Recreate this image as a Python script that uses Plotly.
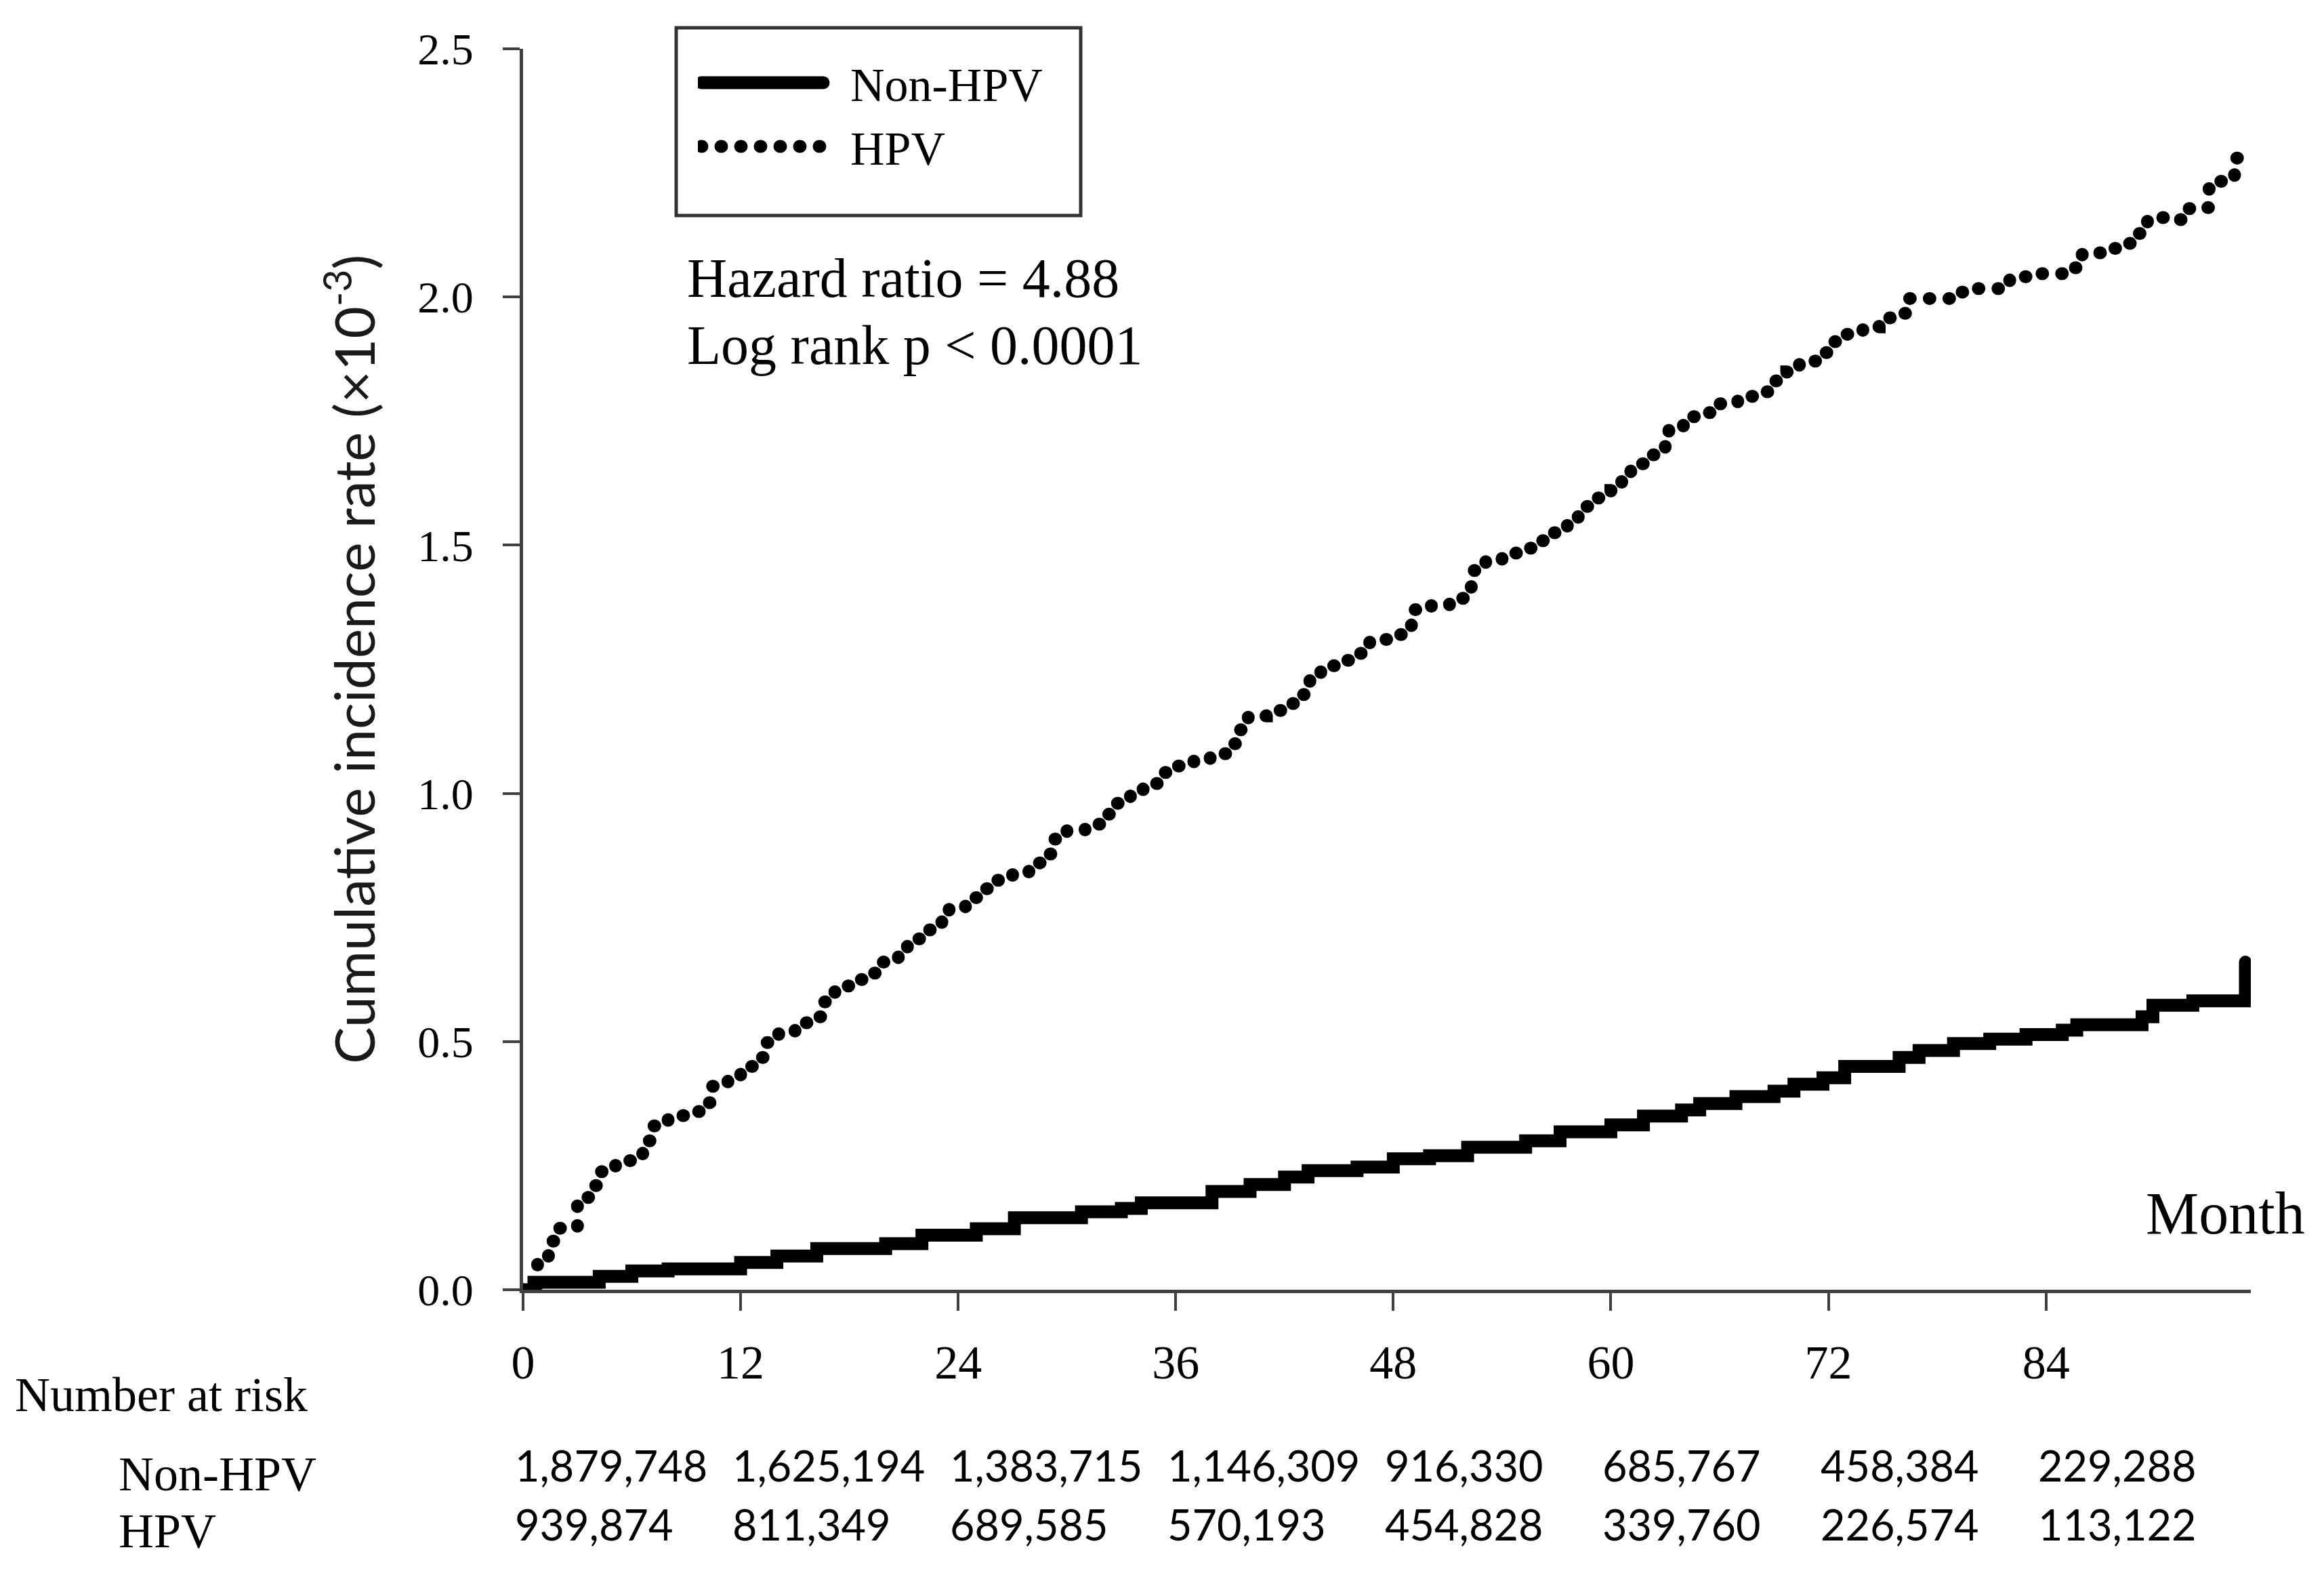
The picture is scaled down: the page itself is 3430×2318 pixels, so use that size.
import plotly.graph_objects as go

# ---------------- data ----------------
tick_months = [0, 12, 24, 36, 48, 60, 72, 84]
y_ticks = [0.0, 0.5, 1.0, 1.5, 2.0, 2.5]
y_tick_text = ["0.0", "0.5", "1.0", "1.5", "2.0", "2.5"]

# Non-HPV cumulative incidence (x10^-3), Kaplan-Meier style steps
nonhpv_month = [0, 0.6, 4.2, 6.0, 8.0, 12.0, 14.0, 16.2, 20.0, 22.0, 25.0, 27.1,
                30.8, 33.0, 34.1, 38.0, 40.1, 42.0, 43.3, 46.0, 48.0, 50.0, 52.1,
                55.3, 57.2, 60.0, 61.8, 63.9, 64.9, 66.9, 69.0, 70.1, 71.7, 72.9,
                75.9, 77.0, 78.9, 80.9, 82.9, 84.9, 85.7, 89.3, 89.9, 92.1, 95.0]
nonhpv_rate = [0.0, 0.015, 0.027, 0.038, 0.042, 0.055, 0.068, 0.083, 0.093, 0.110,
               0.123, 0.145, 0.157, 0.164, 0.175, 0.198, 0.212, 0.227, 0.240, 0.247,
               0.264, 0.270, 0.287, 0.300, 0.318, 0.332, 0.350, 0.362, 0.375, 0.389,
               0.400, 0.414, 0.427, 0.450, 0.468, 0.482, 0.496, 0.505, 0.514, 0.523,
               0.534, 0.550, 0.573, 0.582, 0.660]

# HPV cumulative incidence (x10^-3)
hpv_month = [0, 0.8, 1.4, 2.0, 3.0, 3.7, 4.3, 5.1, 6.0, 6.6, 7.2, 8.0, 9.0, 9.9,
             10.4, 11.3, 12.0, 12.9, 13.4, 14.1, 15.0, 16.0, 16.6, 17.2, 18.0, 19.0,
             19.8, 20.7, 21.2, 22.1, 23.1, 23.5, 24.4, 25.2, 26.1, 27.0, 27.9, 28.6,
             29.2, 30.0, 31.0, 31.9, 32.7, 33.5, 34.2, 35.1, 36.0, 37.0, 37.9, 38.8,
             39.4, 40.0, 41.0, 42.0, 42.8, 43.4, 44.0, 45.0, 46.1, 46.7, 47.7, 48.8,
             49.0, 50.1, 51.1, 52.0, 52.3, 53.1, 54.0, 55.0, 55.9, 56.8, 57.6, 58.2,
             59.0, 60.0, 60.6, 61.1, 62.0, 63.0, 63.2, 64.0, 65.0, 66.0, 67.0, 68.0,
             68.9, 69.7, 70.4, 71.3, 72.0, 72.9, 73.9, 74.8, 75.8, 76.3, 77.7, 78.8,
             79.9, 81.2, 82.0, 83.1, 84.4, 85.5, 86.0, 87.1, 88.3, 89.0, 89.6, 90.9,
             91.7, 92.9, 93.0, 94.0, 94.4, 95.0]
hpv_rate = [0.0, 0.063, 0.098, 0.124, 0.186, 0.210, 0.238, 0.260, 0.272, 0.300,
            0.330, 0.351, 0.359, 0.377, 0.410, 0.428, 0.450, 0.468, 0.498, 0.520,
            0.538, 0.550, 0.580, 0.612, 0.625, 0.638, 0.660, 0.681, 0.707, 0.725,
            0.743, 0.769, 0.790, 0.808, 0.825, 0.838, 0.860, 0.878, 0.908, 0.925,
            0.938, 0.958, 0.980, 1.000, 1.020, 1.042, 1.055, 1.066, 1.080, 1.100,
            1.128, 1.156, 1.167, 1.181, 1.199, 1.229, 1.257, 1.268, 1.282, 1.310,
            1.320, 1.327, 1.370, 1.379, 1.393, 1.408, 1.449, 1.469, 1.484, 1.494,
            1.509, 1.525, 1.550, 1.578, 1.595, 1.610, 1.637, 1.664, 1.682, 1.700,
            1.738, 1.759, 1.767, 1.785, 1.800, 1.809, 1.831, 1.849, 1.871, 1.888,
            1.910, 1.925, 1.940, 1.958, 1.967, 1.997, 1.997, 2.010, 2.017, 2.017,
            2.041, 2.047, 2.047, 2.059, 2.089, 2.098, 2.108, 2.128, 2.160, 2.156,
            2.178, 2.180, 2.233, 2.242, 2.280, 2.290]

risk_nonhpv = ["1,879,748", "1,625,194", "1,383,715", "1,146,309", "916,330",
               "685,767", "458,384", "229,288"]
risk_hpv = ["939,874", "811,349", "689,585", "570,193", "454,828",
            "339,760", "226,574", "113,122"]

# ---------------- layout geometry ----------------
W, H = 3430, 2318
L, R, T, B = 772, 3322, 72, 1903
X_MAX = 95.3


def px(x):
    return (x - L) / (R - L)


def py(y):
    return (B - y) / (B - T)


SERIF = "Liberation Serif"
SANS = "Lato"
AX = "#404040"
NBSP = "\u00a0"

fig = go.Figure()
fig.add_trace(go.Scatter(x=nonhpv_month, y=nonhpv_rate, mode="lines",
                         name=NBSP * 2 + "Non-HPV",
                         line=dict(shape="hv", color="black", width=19)))
fig.add_trace(go.Scatter(x=hpv_month, y=hpv_rate, mode="lines",
                         name=NBSP * 2 + "HPV",
                         line=dict(shape="hv", color="black", width=19, dash="1px,28px")))

annotations = [
    dict(text="Cumulative incidence rate (×10<sup>-3</sup>)", textangle=-90,
         x=px(516), y=py(973), xref="paper", yref="paper", xanchor="center",
         yanchor="middle", showarrow=False, font=dict(family=SANS, size=82, color="#1a1a1a")),
    dict(text="Hazard ratio = 4.88", x=px(1012), y=py(410), xref="paper", yref="paper",
         xanchor="left", yanchor="middle", showarrow=False,
         font=dict(family=SERIF, size=82, color="black")),
    dict(text="Log rank p < 0.0001", x=px(1012), y=py(510), xref="paper", yref="paper",
         xanchor="left", yanchor="middle", showarrow=False,
         font=dict(family=SERIF, size=82, color="black")),
    dict(text="Month", x=px(3404), y=py(1790), xref="paper", yref="paper",
         xanchor="right", yanchor="middle", showarrow=False,
         font=dict(family=SERIF, size=88, color="black")),
    dict(text="Number at risk", x=px(20), y=py(2058), xref="paper", yref="paper",
         xanchor="left", yanchor="middle", showarrow=False,
         font=dict(family=SERIF, size=72, color="black")),
    dict(text="Non-HPV", x=px(173), y=py(2175), xref="paper", yref="paper",
         xanchor="left", yanchor="middle", showarrow=False,
         font=dict(family=SERIF, size=72, color="black")),
    dict(text="HPV", x=px(173), y=py(2259), xref="paper", yref="paper",
         xanchor="left", yanchor="middle", showarrow=False,
         font=dict(family=SERIF, size=72, color="black")),
]
for m, a, b in zip(tick_months, risk_nonhpv, risk_hpv):
    annotations.append(dict(text=a, x=m, xref="x", y=py(2161), yref="paper", xanchor="left",
                            xshift=-14, yanchor="middle", showarrow=False,
                            font=dict(family=SANS, size=63, color="black")))
    annotations.append(dict(text=b, x=m, xref="x", y=py(2248), yref="paper", xanchor="left",
                            xshift=-14, yanchor="middle", showarrow=False,
                            font=dict(family=SANS, size=63, color="black")))

fig.update_layout(
    width=W, height=H, autosize=False,
    margin=dict(l=L, r=W - R, t=T, b=H - B, pad=0),
    plot_bgcolor="white", paper_bgcolor="white",
    showlegend=True,
    legend=dict(x=px(1030), y=py(70), xanchor="left", yanchor="top",
                font=dict(family=SERIF, size=70, color="black"),
                bgcolor="rgba(0,0,0,0)", borderwidth=0, itemwidth=180,
                tracegroupgap=0),
    shapes=[dict(type="rect", xref="paper", yref="paper", x0=px(998), x1=px(1595),
                 y0=py(318), y1=py(41), line=dict(color="#333333", width=5),
                 fillcolor="rgba(0,0,0,0)", layer="above")],
    annotations=annotations,
    xaxis=dict(range=[0, X_MAX], tickvals=tick_months, showgrid=False, zeroline=False,
               showline=True, linecolor=AX, linewidth=5, ticks="outside", ticklen=26,
               tickwidth=4, tickcolor=AX, ticklabelstandoff=16,
               tickfont=dict(family=SERIF, size=70, color="black")),
    yaxis=dict(range=[0, 2.5], tickvals=y_ticks, ticktext=y_tick_text, showgrid=False,
               zeroline=False, showline=True, linecolor=AX, linewidth=5, ticks="outside",
               ticklen=25, tickwidth=4, tickcolor=AX, ticklabelstandoff=30,
               tickfont=dict(family=SERIF, size=66, color="black")),
)

post_js = """
document.body.style.margin='0';
var gd = document.getElementById('{plot_id}');
function restyleLines(){
  gd.querySelectorAll('path.js-line').forEach(function(p){ p.style.strokeLinecap='round'; });
  gd.querySelectorAll('.legend path.js-line').forEach(function(p){ p.style.strokeWidth='19px'; });
}
restyleLines();
if (gd.on) { gd.on('plotly_afterplot', restyleLines); }
"""

fig.write_html("out.html", post_script=post_js, config={"displayModeBar": False})
